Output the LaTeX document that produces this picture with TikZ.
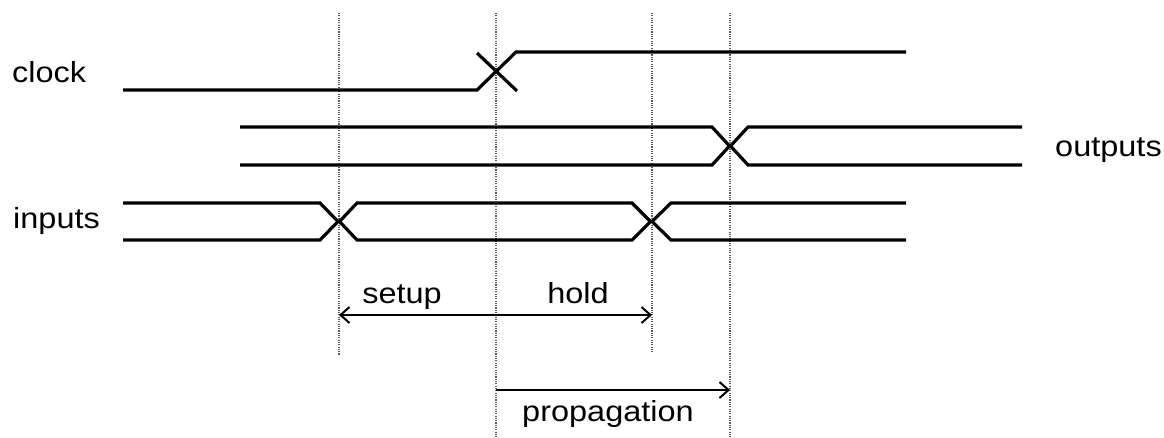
\documentclass[tikz,border=0pt]{standalone}
\usepackage{fontspec}
\setmainfont{Liberation Sans}[FakeStretch=1.12]
\usetikzlibrary{arrows.meta}
\begin{document}
\begin{tikzpicture}[x=1pt,y=-1pt,
  wave/.style={line width=3.2pt,line join=miter,line cap=butt},
  guide/.style={line width=1.8pt,black!65,dash pattern=on 1.1pt off 1.2pt},
  span/.style={line width=2pt},
  lbl/.style={font=\fontsize{29}{34}\selectfont,inner sep=0pt}]
\useasboundingbox (0,0) rectangle (1164,437);

% timing reference lines
\coordinate (setupT) at (339,13);  \coordinate (setupB) at (339,355);
\coordinate (clkT)   at (496,13);  \coordinate (clkB)   at (496,437);
\coordinate (holdT)  at (652,13);  \coordinate (holdB)  at (652,352);
\coordinate (propT)  at (730,13);  \coordinate (propB)  at (730,437);
\draw[guide] (setupT) -- (setupB);
\draw[guide] (clkT) -- (clkB);
\draw[guide] (holdT) -- (holdB);
\draw[guide] (propT) -- (propB);

% clock: low, rising edge, high
\draw[wave] (123,90) -- (477,90) -- (516,52) -- (906,52);
\draw[wave] (477,53) -- (517,91);

% outputs bus
\draw[wave] (240,127) -- (712,127) -- (729.5,146) -- (712,165) -- (240,165);
\draw[wave] (1022,127) -- (748,127) -- (730.5,146) -- (748,165) -- (1022,165);

% inputs bus
\draw[wave] (123,203) -- (320,203) -- (338,221.5) -- (320,240) -- (123,240);
\draw[wave] (339.5,221.5) -- (357,203) -- (632,203) -- (650.5,221.5) -- (632,240) -- (357,240) -- cycle;
\draw[wave] (906,203) -- (671,203) -- (652,221.5) -- (671,240) -- (906,240);

% signal names
\node[lbl,anchor=base west] (clock) at (12,82) {clock};
\node[lbl,anchor=base west] (outputs) at (1055,156) {outputs};
\node[lbl,anchor=base west] (inputs) at (13,228) {inputs};

% setup / hold interval
\coordinate (sA) at (339,315);
\coordinate (sB) at (652,315);
\draw[span,{Straight Barb[length=9pt,width=16pt,line width=2pt]}-{Straight Barb[length=9pt,width=16pt,line width=2pt]}] (sA) -- (sB);
\node[lbl,anchor=base] (setup) at (402,303) {setup};
\node[lbl,anchor=base] (hold) at (578,303) {hold};

% propagation interval
\coordinate (pA) at (496,390);
\coordinate (pB) at (730,390);
\draw[span,-{Straight Barb[length=9pt,width=16pt,line width=2pt]}] (pA) -- (pB);
\node[lbl,anchor=base] (propagation) at (608,421) {propagation};
\end{tikzpicture}
\end{document}
